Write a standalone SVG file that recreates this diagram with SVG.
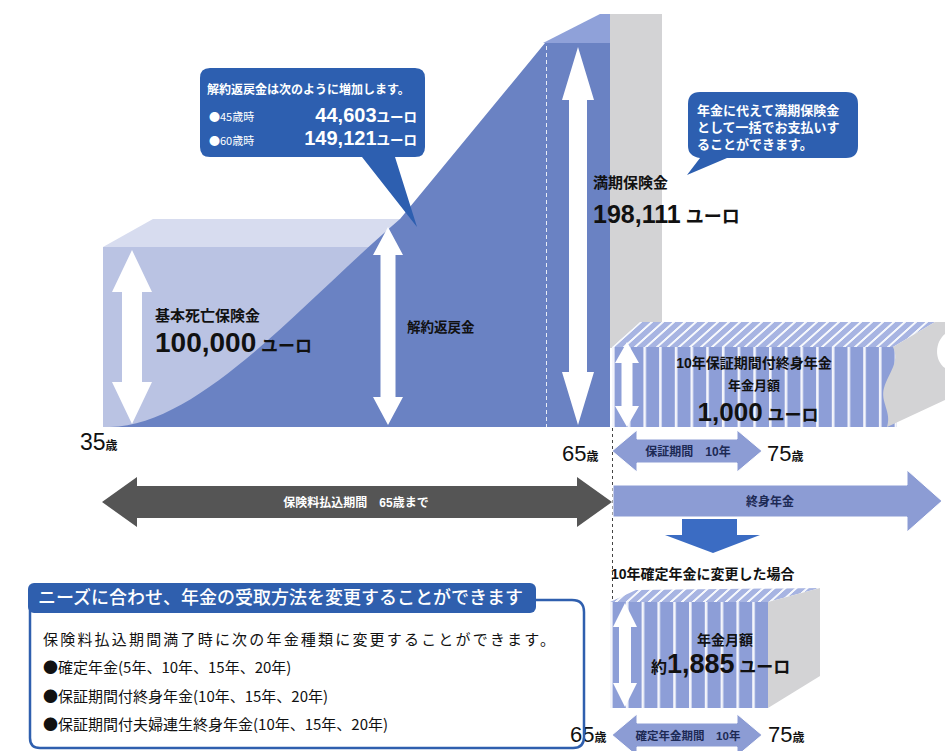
<svg xmlns="http://www.w3.org/2000/svg" width="945" height="751" viewBox="0 0 945 751">
<style>
text{font-family:"Liberation Sans","Noto Sans CJK JP",sans-serif;}
.jp{font-family:"Noto Sans CJK JP",sans-serif;}
.b{font-weight:bold;}
.w{fill:#ffffff;}
.k{fill:#111111;}
.n{fill:#1d2a55;}
.wa{fill:#ffffff;}
.dark{fill:#6a82c3;}
.gray{fill:#d3d3d5;}
.bub{fill:#2d5fb0;}
.la{fill:#8c9cd4;stroke:#ffffff;stroke-width:1;}
</style>
<defs>
<pattern id="vs" x="612" y="0" width="15.7" height="20" patternUnits="userSpaceOnUse">
<rect width="15.7" height="20" fill="#8d9ed7"/>
<rect x="0" width="2.6" height="20" fill="#ffffff" opacity="0.9"/>
</pattern>
<pattern id="ds" x="612" y="0" width="11" height="20" patternUnits="userSpaceOnUse" patternTransform="skewX(-48)">
<rect width="11" height="20" fill="#a7b4e2"/>
<rect x="0" width="3" height="20" fill="#ffffff" opacity="0.9"/>
</pattern>
<pattern id="vs2" x="610" y="0" width="15.8" height="20" patternUnits="userSpaceOnUse">
<rect width="15.8" height="20" fill="#8d9ed7"/>
<rect x="0" width="2.6" height="20" fill="#ffffff" opacity="0.9"/>
</pattern>
</defs>

<g id="main-chart">
<rect x="103" y="247" width="450" height="180" fill="#bac3e3"/>
<polygon points="103,247 153,219 420,219 420,247" fill="#d7dcef"/>
<rect class="gray" x="610" y="14" width="52" height="334"/>
<polygon points="543,43 600,14 610,14 610,43" fill="#8fa1d9"/>
<path class="dark" d="M110,427 C200,425 300,305 400,219 L545,43 L610,43 L610,427 Z"/>
<line x1="546.5" y1="46" x2="546.5" y2="427" stroke="#ffffff" stroke-width="1" stroke-dasharray="4 3" opacity="0.85"/>
</g>

<g id="pension-block">
<polygon points="612,347 640,322 935,322 893,347" fill="url(#ds)"/>
<rect x="612" y="347" width="285" height="80" fill="url(#vs)"/>
<path class="gray" d="M893,347 L935,322 L945,322 L945,334 C935,342 934,360 945,368 L945,400 L887,427 C892,412 880,402 884,388 C889,372 900,362 893,347 Z"/>
</g>

<g id="fixed-block">
<polygon points="610,602 636,590 820,588 768,602" fill="url(#ds)"/>
<rect x="610" y="602" width="158" height="106" fill="url(#vs2)"/>
<polygon class="gray" points="768,602 820,588 820,676 768,708"/>
</g>

<g id="connectors">
<line x1="612.5" y1="428" x2="612.5" y2="600" stroke="#444444" stroke-width="1" stroke-dasharray="3 3"/>
<polygon class="wa" points="132,250 152,292 142,292 142,382 152,382 132,424 112,382 122,382 122,292 112,292"/>
<polygon class="wa" points="388,227 403,255 395.5,255 395.5,397 403,397 388,425 373,397 380.5,397 380.5,255 373,255"/>
<polygon class="wa" points="578,47 594,100 587,100 587,372 594,372 578,425 562,372 569,372 569,100 562,100"/>
<polygon class="wa" points="627,342 639,363 632.5,363 632.5,406 639,406 627,427 615,406 621.5,406 621.5,363 615,363"/>
<polygon class="wa" points="625,603 637,627 631,627 631,683 637,683 625,707 613,683 619,683 619,627 613,627"/>
<polygon points="102,502 137,477 137,486 577,486 577,477 612,502 577,527 577,518 137,518 137,527" fill="#555555"/>
<polygon class="la" points="612,451 637,430 637,439 737,439 737,430 762,451 737,472 737,463 637,463 637,472"/>
<polygon class="la" points="613,485 907,485 907,470 942,501 907,532 907,517 613,517"/>
<polygon points="682,519 737,519 737,535 760,535 713,553 665,535 682,535" fill="#3b6cc3"/>
<polygon class="la" points="612,735 637,714 637,723 737,723 737,714 762,735 737,756 737,747 637,747 637,756"/>
</g>

<g id="labels">
<text x="155" y="321" class="b k" font-size="15">基本死亡保険金</text>
<text x="155" y="352" class="b k"><tspan font-size="28">100,000</tspan><tspan font-size="17"> ユーロ</tspan></text>
<text x="407" y="332" class="b k" font-size="13.5">解約返戻金</text>
<text x="80" y="450" class="k"><tspan font-size="23">35</tspan><tspan font-size="12" font-weight="bold">歳</tspan></text>
<text x="593" y="188" class="b k" font-size="15">満期保険金</text>
<text x="593" y="223" class="b k"><tspan font-size="25">198,111</tspan><tspan font-size="18"> ユーロ</tspan></text>
<text x="754" y="368" class="b k" font-size="14" text-anchor="middle">10年保証期間付終身年金</text>
<text x="754" y="390" class="b k" font-size="13" text-anchor="middle">年金月額</text>
<text x="758" y="421" class="b k" text-anchor="middle"><tspan font-size="26">1,000</tspan><tspan font-size="17"> ユーロ</tspan></text>
<text x="562" y="461" class="k"><tspan font-size="22">65</tspan><tspan font-size="12" font-weight="bold">歳</tspan></text>
<text x="767" y="461" class="k"><tspan font-size="22">75</tspan><tspan font-size="12" font-weight="bold">歳</tspan></text>
<text x="688" y="456" class="b n" font-size="12" text-anchor="middle">保証期間　10年</text>
<text x="356" y="507" class="b w" font-size="12" text-anchor="middle">保険料払込期間　65歳まで</text>
<text x="770" y="506" class="b n" font-size="12" text-anchor="middle">終身年金</text>
<text x="611" y="579" class="b k" font-size="14">10年確定年金に変更した場合</text>
<text x="725" y="645" class="b k" font-size="14" text-anchor="middle">年金月額</text>
<text x="651" y="673" class="b k"><tspan font-size="16">約</tspan><tspan font-size="27">1,885</tspan><tspan font-size="17"> ユーロ</tspan></text>
<text x="688" y="740" class="b n" font-size="11.5" text-anchor="middle">確定年金期間　10年</text>
<text x="570" y="742" class="k"><tspan font-size="22">65</tspan><tspan font-size="12" font-weight="bold">歳</tspan></text>
<text x="768" y="742" class="k"><tspan font-size="22">75</tspan><tspan font-size="12" font-weight="bold">歳</tspan></text>
</g>

<g id="bubble-surrender">
<path class="bub" d="M210,68 H415 Q425,68 425,78 V147 Q425,157 415,157 H395 L417,227 L362,157 H210 Q200,157 200,147 V78 Q200,68 210,68 Z"/>
<text x="207" y="94" class="b w" font-size="12">解約返戻金は次のように増加します。</text>
<text x="209" y="121" class="jp w" font-size="11">●45歳時</text>
<text x="417" y="122" class="b w" text-anchor="end"><tspan font-size="20">44,603</tspan><tspan font-size="13.5">ユーロ</tspan></text>
<text x="209" y="145" class="jp w" font-size="11">●60歳時</text>
<text x="417" y="145" class="b w" text-anchor="end"><tspan font-size="20">149,121</tspan><tspan font-size="13.5">ユーロ</tspan></text>
</g>

<g id="bubble-maturity">
<path class="bub" d="M700,92 H846 Q858,92 858,104 V146 Q858,158 846,158 H727 L687,175 L700,158 Q688,156 688,146 V104 Q688,92 700,92 Z"/>
<text x="697" y="115" class="b w" font-size="13">年金に代えて満期保険金</text>
<text x="697" y="132" class="b w" font-size="13">として一括でお支払いす</text>
<text x="697" y="149" class="b w" font-size="13">ることができます。</text>
</g>

<g id="options-box">
<path d="M30,600 V738 Q30,748 40,748 H573 Q584,748 584,737 V612 Q584,600 572,600 H530" fill="none" stroke="#2f5fae" stroke-width="2.5"/>
<rect x="28" y="583" width="508" height="30" rx="6" fill="#2f5fae"/>
<text x="38" y="604" class="jp w" font-size="18" font-weight="500">ニーズに合わせ、年金の受取方法を変更することができます</text>
<text x="43" y="645" class="jp k" font-size="15" textLength="512" lengthAdjust="spacing">保険料払込期間満了時に次の年金種類に変更することができます。</text>
<text x="43" y="673" class="jp k" font-size="15">●確定年金(5年、10年、15年、20年)</text>
<text x="43" y="702" class="jp k" font-size="15">●保証期間付終身年金(10年、15年、20年)</text>
<text x="43" y="730" class="jp k" font-size="15">●保証期間付夫婦連生終身年金(10年、15年、20年)</text>
</g>
</svg>
